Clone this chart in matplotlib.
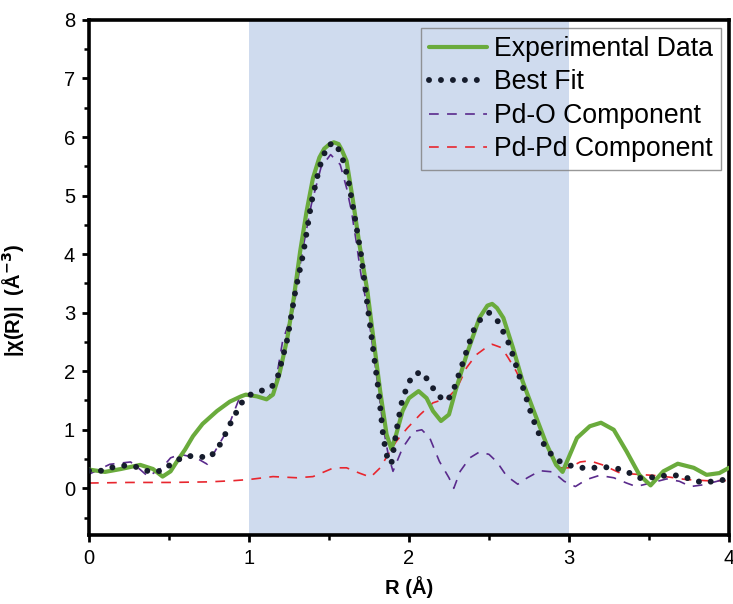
import matplotlib
matplotlib.use("Agg")
import matplotlib.pyplot as plt
from matplotlib.ticker import MultipleLocator

plt.rcParams['font.family'] = ['Liberation Sans', 'DejaVu Sans']
plt.rcParams['lines.scale_dashes'] = False

# Experimental |chi(R)|
r_exp = [0, 0.1, 0.2, 0.32, 0.4, 0.46, 0.51, 0.55, 0.6, 0.65, 0.71, 0.8, 0.88, 0.95,
         0.98, 1.05, 1.11, 1.15, 1.19, 1.24, 1.28, 1.32, 1.36, 1.40, 1.44, 1.47, 1.50,
         1.53, 1.56, 1.58, 1.61, 1.65, 1.69, 1.74, 1.78, 1.82, 1.86, 1.89, 1.92, 1.96,
         2.0, 2.06, 2.11, 2.15, 2.20, 2.25, 2.29, 2.36, 2.44, 2.49, 2.52, 2.55, 2.59,
         2.65, 2.71, 2.78, 2.86, 2.92, 2.96, 3.05, 3.13, 3.20, 3.28, 3.36, 3.44, 3.51,
         3.59, 3.68, 3.78, 3.86, 3.94, 4.0]
chi_exp = [0.32, 0.28, 0.33, 0.40, 0.33, 0.20, 0.29, 0.46, 0.66, 0.89, 1.10, 1.32, 1.48,
           1.57, 1.60, 1.57, 1.52, 1.60, 1.95, 2.57, 3.25, 4.05, 4.73, 5.30, 5.65, 5.80,
           5.87, 5.91, 5.88, 5.78, 5.59, 4.91, 4.17, 3.37, 2.51, 1.66, 0.92, 0.67, 0.92,
           1.32, 1.54, 1.66, 1.54, 1.32, 1.15, 1.26, 1.66, 2.28, 2.91, 3.12, 3.15, 3.08,
           2.91, 2.40, 1.83, 1.32, 0.75, 0.40, 0.28, 0.86, 1.06, 1.12, 1.00, 0.63, 0.23,
           0.05, 0.29, 0.42, 0.35, 0.23, 0.26, 0.35]

# Best fit
r_fit = [0, 0.08, 0.15, 0.23, 0.31, 0.38, 0.46, 0.52, 0.60, 0.67, 0.75, 0.80, 0.84, 0.87,
         0.91, 0.94, 1.0, 1.07, 1.14, 1.18, 1.20, 1.24, 1.29, 1.34, 1.39, 1.44, 1.49,
         1.54, 1.58, 1.62, 1.66, 1.70, 1.74, 1.78, 1.81, 1.84, 1.87, 1.89, 1.93, 1.96,
         2.02, 2.08, 2.13, 2.18, 2.24, 2.28, 2.33, 2.40, 2.45, 2.50, 2.56, 2.63, 2.70,
         2.77, 2.83, 2.87, 2.92, 2.99, 3.07, 3.15, 3.23, 3.30, 3.38, 3.45, 3.53, 3.61,
         3.68, 3.76, 3.83, 3.91, 3.98]
chi_fit = [0.30, 0.30, 0.36, 0.39, 0.36, 0.28, 0.30, 0.43, 0.55, 0.55, 0.52, 0.66, 0.85,
           1.04, 1.23, 1.42, 1.59, 1.66, 1.72, 1.91, 2.12, 2.55, 3.37, 4.02, 4.88, 5.48,
           5.86, 5.90, 5.68, 5.28, 4.65, 4.00, 3.14, 2.29, 1.66, 0.86, 0.45, 0.42, 1.12,
           1.54, 1.93, 1.99, 1.80, 1.58, 1.49, 1.69, 2.09, 2.68, 2.90, 3.00, 2.84, 2.44,
           1.83, 1.22, 0.81, 0.64, 0.49, 0.40, 0.35, 0.35, 0.36, 0.34, 0.26, 0.17, 0.19,
           0.22, 0.22, 0.16, 0.10, 0.12, 0.15]

# Pd-O shell contribution
r_pdo = [0, 0.13, 0.26, 0.32, 0.37, 0.42, 0.46, 0.51, 0.57, 0.67, 0.74, 0.80, 0.86, 0.90,
         0.94, 0.99, 1.05, 1.11, 1.16, 1.21, 1.28, 1.33, 1.39, 1.45, 1.51, 1.57, 1.61,
         1.64, 1.67, 1.70, 1.74, 1.78, 1.81, 1.84, 1.87, 1.90, 1.96, 2.03, 2.08, 2.13,
         2.19, 2.25, 2.28, 2.32, 2.38, 2.44, 2.50, 2.55, 2.61, 2.68, 2.74, 2.82, 2.90,
         2.97, 3.04, 3.11, 3.19, 3.28, 3.36, 3.42, 3.51, 3.61, 3.69, 3.76, 3.84, 3.94, 4.0]
chi_pdo = [0.24, 0.41, 0.45, 0.32, 0.20, 0.29, 0.36, 0.52, 0.58, 0.52, 0.41, 0.69, 0.97,
           1.26, 1.54, 1.59, 1.56, 1.52, 1.70, 2.51, 3.08, 4.00, 4.85, 5.48, 5.70, 5.53,
           5.13, 4.74, 4.22, 3.65, 3.08, 2.28, 1.66, 1.03, 0.58, 0.29, 0.69, 0.97, 1.00,
           0.86, 0.46, 0.18, 0.00, 0.29, 0.52, 0.62, 0.58, 0.45, 0.21, 0.07, 0.18, 0.30,
           0.28, 0.12, 0.03, 0.15, 0.22, 0.18, 0.09, 0.03, 0.09, 0.16, 0.12, 0.03, 0.06,
           0.13, 0.15]

# Pd-Pd shell contribution
r_pdpd = [0, 0.25, 0.5, 0.75, 0.9, 1.0, 1.15, 1.30, 1.40, 1.53, 1.61, 1.69, 1.76, 1.82,
          1.87, 1.92, 1.99, 2.07, 2.15, 2.24, 2.30, 2.36, 2.42, 2.48, 2.52, 2.58, 2.62,
          2.67, 2.73, 2.78, 2.83, 2.88, 2.94, 3.0, 3.07, 3.13, 3.21, 3.32, 3.42, 3.53,
          3.63, 3.73, 3.86, 3.98]
chi_pdpd = [0.09, 0.10, 0.10, 0.11, 0.13, 0.15, 0.20, 0.18, 0.20, 0.35, 0.35, 0.26, 0.19,
            0.35, 0.58, 0.80, 1.03, 1.26, 1.46, 1.54, 1.71, 2.06, 2.28, 2.40, 2.46, 2.40,
            2.23, 2.00, 1.66, 1.32, 0.95, 0.63, 0.35, 0.35, 0.45, 0.47, 0.40, 0.26, 0.24,
            0.22, 0.19, 0.15, 0.13, 0.13]

fit_window = (1.0, 3.0)

fig = plt.figure(figsize=(7.33, 6.04), dpi=100)
ax = fig.add_axes([0.1214, 0.114, 0.8731, 0.853])

ax.axvspan(*fit_window, color='#cfdbee', zorder=0, lw=0)

ax.plot(r_pdpd, chi_pdpd, color='#e8262e', lw=1.2, linestyle=(0, (7, 6)),
        label='Pd-Pd Component', zorder=2)
ax.plot(r_pdo, chi_pdo, color='#5a2a8c', lw=1.2, linestyle=(0, (7, 6)),
        label='Pd-O Component', zorder=2)
ax.plot(r_exp, chi_exp, color='#6aab3c', lw=3.0, label='Experimental Data', zorder=3,
        solid_joinstyle='round', solid_capstyle='round')
ax.plot(r_fit, chi_fit, color='#161c2c', lw=4.3, linestyle=(0, (0.01, 8.6)),
        dash_capstyle='round', label='Best Fit', zorder=4)

ax.set_xlim(0, 4)
ax.set_ylim(-0.8, 8)
ax.xaxis.set_major_locator(MultipleLocator(1))
ax.xaxis.set_minor_locator(MultipleLocator(0.5))
ax.yaxis.set_minor_locator(MultipleLocator(0.5))
ax.set_yticks(range(0, 9))

for s in ax.spines.values():
    s.set_linewidth(2.6)
ax.tick_params(which='major', direction='out', length=5, width=2.0, labelsize=14.5,
               top=False, right=False, pad=5)
ax.tick_params(which='minor', direction='out', length=3.5, width=1.8,
               top=False, right=False)

ax.set_xlabel('R (Å)', fontsize=14.5, fontweight='bold', labelpad=6)
ax.set_ylabel('|χ(R)|  (Å$^{\\mathbf{-3}}$)', fontsize=14.5, fontweight='bold')
ax.yaxis.set_label_coords(-0.098, 0.455)

handles, labels = ax.get_legend_handles_labels()
order = ['Experimental Data', 'Best Fit', 'Pd-O Component', 'Pd-Pd Component']
hmap = dict(zip(labels, handles))
leg = ax.legend([hmap[k] for k in order], order, loc='upper right', fontsize=19.2,
                frameon=True, fancybox=False, handlelength=2.2, handletextpad=0.25,
                labelspacing=0.28, borderpad=0.3, borderaxespad=0.3)
frame = leg.get_frame()
frame.set_facecolor('none')
frame.set_edgecolor('#7f7f7f')
frame.set_linewidth(1.0)

fig.savefig('out.png', dpi=100)
